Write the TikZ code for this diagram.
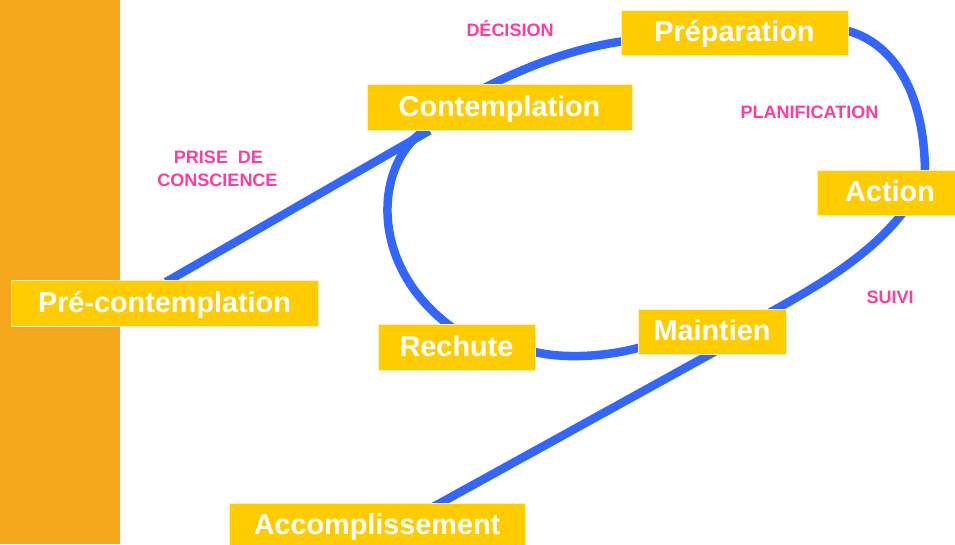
\documentclass[tikz,border=0pt]{standalone}
\usepackage{fontspec}
\setmainfont{Liberation Sans}
\usetikzlibrary{calc,backgrounds}
\definecolor{barorange}{HTML}{F5A61A}
\definecolor{boxyellow}{HTML}{FFCC00}
\definecolor{loopblue}{HTML}{3366FF}
\definecolor{labelpink}{HTML}{FF3D9A}
\tikzset{
  stagebox/.style={fill=boxyellow, draw=white!70!boxyellow, line width=1pt, inner sep=0pt,
    text=white, font=\fontsize{28.8}{30}\selectfont\bfseries,
    text height=22pt, text depth=4pt, minimum height=46pt},
  steplabel/.style={text=labelpink, font=\fontsize{18}{20}\selectfont\bfseries, anchor=base, inner sep=0pt},
  loopline/.style={draw=loopblue, line width=8.5pt}
}
\begin{document}
\begin{tikzpicture}[x=1pt,y=-1pt]
\useasboundingbox (0,0) rectangle (955,544);
\fill[barorange] (0,0) rectangle (120,544);

\node[stagebox, minimum width=307pt] (pre) at (164.5,303.5) {Pré-contemplation};
\node[stagebox, minimum width=265pt] (contemp) at (499.5,107) {Contemplation};
\node[stagebox, minimum width=227pt, minimum height=45pt] (prep) at (734.5,32.5) {Préparation};
\node[stagebox, minimum width=146pt, minimum height=45pt] (action) at (890,192.5) {Action};
\node[stagebox, minimum width=148pt, minimum height=45pt] (maint) at (712,331.5) {Maintien};
\node[stagebox, minimum width=157pt] (rech) at (456.5,347) {Rechute};
\node[stagebox, minimum width=296pt, minimum height=45pt] (acc) at (377,525.5) {Accomplissement};

\node[steplabel] (lbldec) at (510,36) {DÉCISION};
\node[steplabel] (lblplan) at (809.5,118) {PLANIFICATION};
\node[steplabel] (lblprise) at (218.5,163.3) {PRISE\hspace{5pt} DE};
\node[steplabel] (lblcons) at (217.5,186) {CONSCIENCE};
\node[steplabel] (lblsuivi) at (890,303) {SUIVI};

\begin{scope}[on background layer]
  \fill[white] (0,0) rectangle (955,544);
  \fill[barorange] (0,0) rectangle (120,544);
  % pre-contemplation -> contemplation
  \draw[loopline] ($(pre.north)+(1.5,2)$) -- ($(contemp.south west)+(63,0)$);
  % contemplation -> rechute (left side of loop)
  \draw[loopline] ($(contemp.south west)+(61,-2)$) .. controls (375,160) and (365,265) .. ($(rech.north)+(-3,5)$);
  % contemplation -> preparation
  \draw[loopline] ($(contemp.north)+(-14.5,4)$) .. controls (530,65) and (575,48) .. ($(prep.west)+(4,8.5)$);
  % preparation -> action
  \draw[loopline] ($(prep.east)+(-4,-2.5)$) .. controls (895,42) and (925,95) .. ($(action.north)+(35,5)$);
  % action -> maintien
  \draw[loopline] ($(action.south)+(13,-3)$) .. controls (870,255) and (820,285) .. ($(maint.north)+(56,5)$);
  % rechute -> maintien
  \draw[loopline] ($(rech.east)+(-5,4)$) .. controls (565,360) and (610,356) .. ($(maint.west)+(4,15.5)$);
  % maintien -> accomplissement
  \draw[loopline] ($(maint.south)+(3,-3)$) -- ($(acc.north)+(57,4)$);
\end{scope}
\end{tikzpicture}
\end{document}
